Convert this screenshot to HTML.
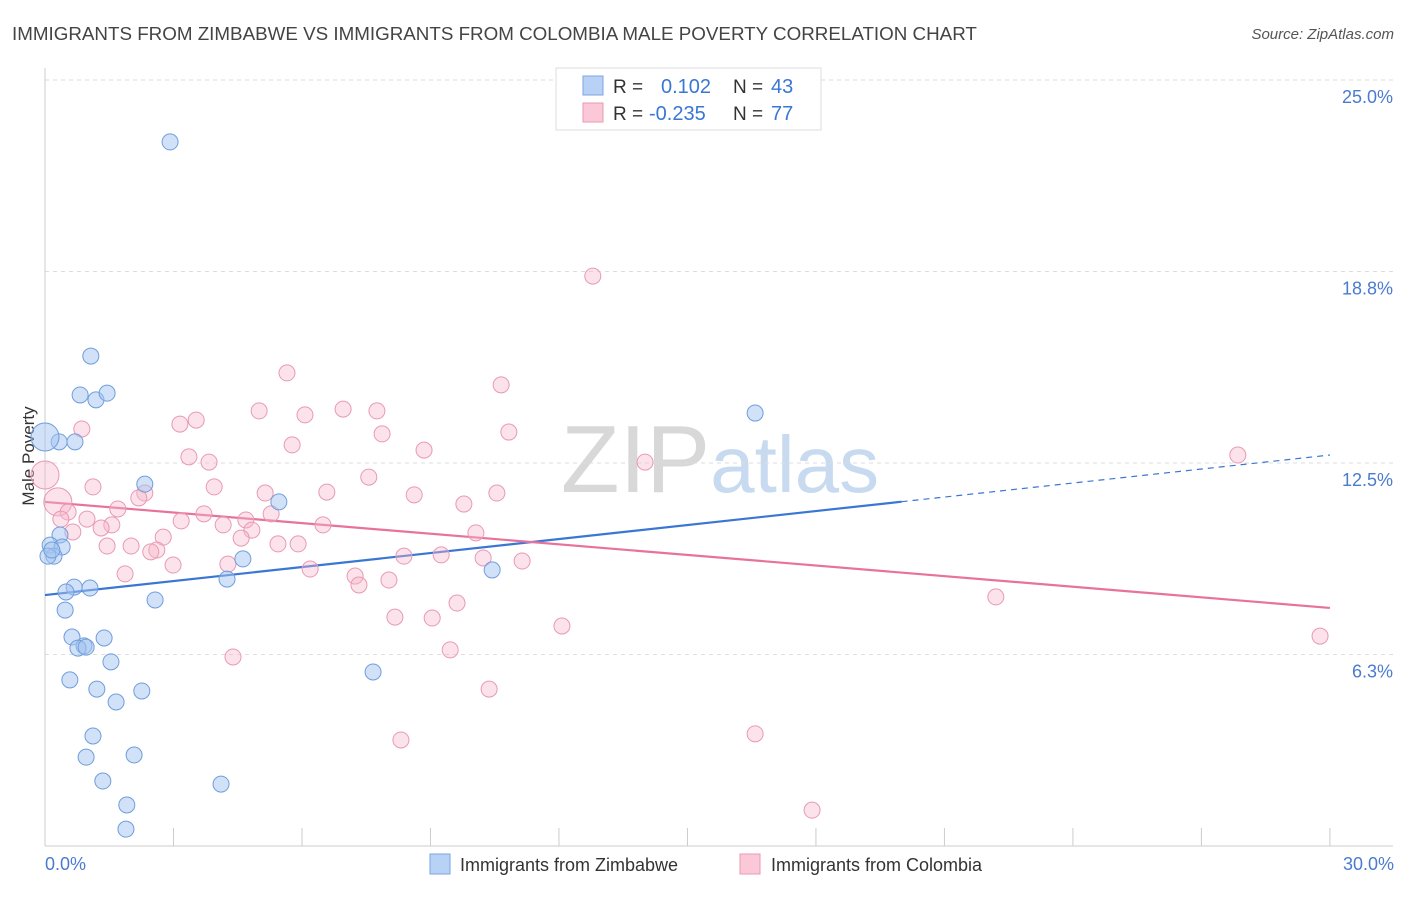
<!DOCTYPE html>
<html><head><meta charset="utf-8"><style>
body{margin:0;background:#fff;font-family:"Liberation Sans",sans-serif;}
svg text{font-family:"Liberation Sans",sans-serif;}
</style></head><body>
<svg id="chart" width="1406" height="892" xmlns="http://www.w3.org/2000/svg">
<text x="12" y="40" font-size="18.8" fill="#444">IMMIGRANTS FROM ZIMBABWE VS IMMIGRANTS FROM COLOMBIA MALE POVERTY CORRELATION CHART</text>
<text x="1394" y="39" font-size="15" fill="#555" text-anchor="end" font-style="italic">Source: ZipAtlas.com</text>
<text x="720" y="492" font-size="96" fill="#ddd" text-anchor="middle" font-family="Liberation Serif"><tspan fill="#d8d8d8">ZIP</tspan><tspan fill="#c8daf0" font-family="Liberation Sans" font-size="80">atlas</tspan></text>
<text transform="translate(34,456) rotate(-90)" font-size="17" fill="#333" text-anchor="middle">Male Poverty</text>
<g id="grid"></g><g id="axes"></g><g id="trend"></g><g id="pts"></g>
<g>
<rect x="556" y="68" width="265" height="62" fill="#fff" stroke="#ddd"/>
<rect x="583" y="76" width="20" height="19" fill="#b8d2f5" stroke="#7aa6e0"/>
<rect x="583" y="103" width="20" height="19" fill="#fbc8d8" stroke="#e89ab3"/>
<text x="613" y="93" font-size="19" fill="#333">R =</text><text x="661" y="93" font-size="20" fill="#3a76d4">0.102</text>
<text x="733" y="93" font-size="19" fill="#333">N =</text><text x="771" y="93" font-size="20" fill="#3a76d4">43</text>
<text x="613" y="120" font-size="19" fill="#333">R =</text><text x="649" y="120" font-size="20" fill="#3a76d4">-0.235</text>
<text x="733" y="120" font-size="19" fill="#333">N =</text><text x="771" y="120" font-size="20" fill="#3a76d4">77</text>
</g>
<g>
<rect x="430" y="854" width="20" height="20" fill="#b8d2f5" stroke="#7aa6e0"/>
<text x="460" y="871" font-size="18" fill="#333">Immigrants from Zimbabwe</text>
<rect x="740" y="854" width="20" height="20" fill="#fbc8d8" stroke="#e89ab3"/>
<text x="771" y="871" font-size="18" fill="#333">Immigrants from Colombia</text>
</g>
</svg>
<script>
const blueX=[2.92,1.07,0.82,1.19,1.45,16.58,0.33,0.70,0.0,2.33,5.46,0.35,0.12,0.40,0.21,0.07,0.16,4.62,10.44,4.25,0.68,1.05,0.49,2.57,0.47,0.63,1.38,0.91,0.77,0.96,1.54,7.66,0.58,1.21,2.26,1.66,1.12,2.08,0.96,1.35,4.11,1.91,1.89];
const blueY=[22.98,15.99,14.72,14.56,14.78,14.13,13.19,13.19,13.35,11.81,11.23,10.15,9.82,9.76,9.46,9.46,9.66,9.37,9.01,8.71,8.45,8.42,8.29,8.03,7.70,6.82,6.79,6.53,6.46,6.49,6.01,5.68,5.42,5.12,5.06,4.70,3.59,2.97,2.90,2.12,2.02,1.34,0.55];
const pinkX=[12.79,5.65,10.65,5.00,6.07,6.96,7.75,3.53,3.15,0.86,7.87,10.83,5.77,8.85,3.36,3.83,14.01,27.85,7.56,1.12,3.95,6.58,5.14,2.33,8.62,10.55,2.19,9.78,0.30,0,1.70,0.54,3.71,5.28,4.69,3.18,0.98,4.16,0.37,1.56,4.83,6.49,10.06,1.31,4.58,0.65,2.76,2.01,5.44,5.91,1.45,2.61,2.47,8.38,9.25,10.23,11.14,2.99,6.19,1.87,7.24,8.03,7.33,9.62,22.20,8.17,9.04,12.07,29.77,9.46,4.39,10.37,8.31,16.58,17.91,4.27];
const pinkY=[18.60,15.44,15.05,14.20,14.07,14.26,14.20,13.90,13.77,13.61,13.45,13.51,13.09,12.92,12.70,12.53,12.53,12.76,12.04,11.72,11.72,11.55,11.52,11.52,11.46,11.52,11.36,11.16,11.23,12.11,11.00,10.90,10.84,10.84,10.64,10.61,10.67,10.48,10.67,10.48,10.31,10.48,10.22,10.38,10.05,10.25,10.08,9.79,9.86,9.86,9.79,9.66,9.60,9.46,9.50,9.40,9.30,9.17,9.04,8.88,8.81,8.68,8.52,7.93,8.13,7.47,7.44,7.18,6.85,6.40,6.17,5.12,3.46,3.66,1.17,9.20];
const yTicks=[25,18.75,12.5,6.25];
const yTickLabels=["25.0%","18.8%","12.5%","6.3%"];
const blueTrend=[8.19,12.76]; const blueSolidEnd=20.0;
const pinkTrend=[11.23,7.77];
const NS="http://www.w3.org/2000/svg";
const xs=v=>45+v*42.83, ys=v=>846-v*30.64;
function mk(tag,attrs,parent){const e=document.createElementNS(NS,tag);for(const k in attrs)e.setAttribute(k,attrs[k]);document.getElementById(parent).appendChild(e);return e;}
yTicks.forEach((t,i)=>{
 const l=mk('line',{x1:45,x2:1393,y1:ys(t),y2:ys(t),stroke:'#ddd','stroke-dasharray':'4,4'},'grid');
 
 
 const tx=mk('text',{x:1393,y:ys(t)+23,'font-size':18,fill:'#4a7bd0','text-anchor':'end'},'grid');
 tx.textContent=yTickLabels[i];
 
 
});
let a=mk('line',{x1:45,x2:45,y1:68,y2:846,stroke:'#ccc'},'axes');


a=mk('line',{x1:45,x2:1393,y1:846,y2:846,stroke:'#ccc'},'axes');


for(let i=0;i<=10;i++){const t=mk('line',{x1:xs(i*3),x2:xs(i*3),y1:828,y2:846,stroke:'#ccc'},'axes');
 
 }
let tl=mk('text',{x:45,y:870,'font-size':18,fill:'#4a7bd0'},'axes');tl.textContent='0.0%';


tl=mk('text',{x:1394,y:870,'font-size':18,fill:'#4a7bd0','text-anchor':'end'},'axes');tl.textContent='30.0%';


function drawPts(X,Y,fill,stroke,name){X.forEach((x,i)=>{
 const big=(x===0&&(Y[i]>11.5&&Y[i]<13.5))||(name==='pink-point'&&x===0.30);
 const c=mk('circle',{cx:xs(x),cy:ys(Y[i]),r:big?14:8,fill:fill,stroke:stroke,'stroke-width':1},'pts');
 
 });}
drawPts(pinkX,pinkY,'rgba(247,182,203,0.4)','#e89ab3','pink-point');
drawPts(blueX,blueY,'rgba(164,196,240,0.5)','#6f9edc','blue-point');
const bAt=x=>blueTrend[0]+(blueTrend[1]-blueTrend[0])*x/30;
let ln=mk('line',{x1:xs(0),y1:ys(bAt(0)),x2:xs(blueSolidEnd),y2:ys(bAt(blueSolidEnd)),stroke:'#3a76d4','stroke-width':2.2},'trend');


ln=mk('line',{x1:xs(blueSolidEnd),y1:ys(bAt(blueSolidEnd)),x2:xs(30),y2:ys(bAt(30)),stroke:'#3a76d4','stroke-width':1.2,'stroke-dasharray':'6,5'},'trend');


ln=mk('line',{x1:xs(0),y1:ys(pinkTrend[0]),x2:xs(30),y2:ys(pinkTrend[1]),stroke:'#e8739a','stroke-width':2.2},'trend');


</script>
</body></html>
